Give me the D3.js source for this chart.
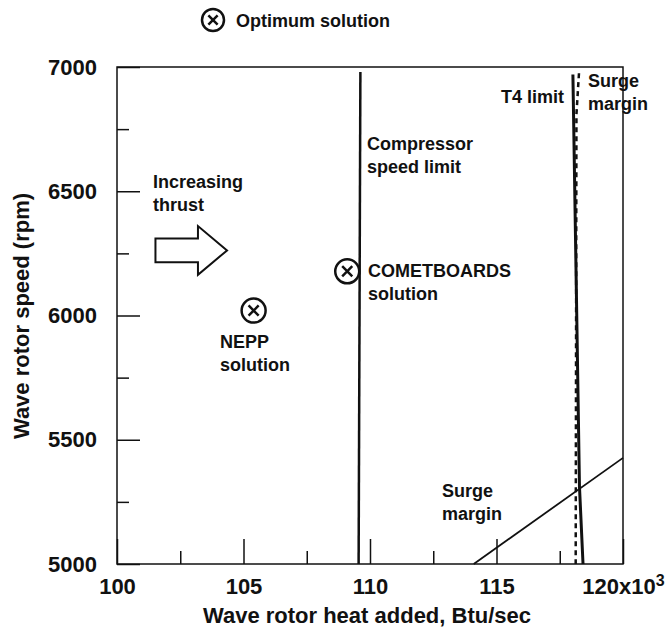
<!DOCTYPE html>
<html>
<head>
<meta charset="utf-8">
<script src="https://cdn.jsdelivr.net/npm/d3@7"></script>
<style>
body { margin: 0; background: #fff; }
text { font-family: "Liberation Sans", Arial, Helvetica, sans-serif; font-weight: bold; fill: #111; }
</style>
</head>
<body>
<script>
// axis ticks
var xMajor = [100, 105, 110, 115, 120];
var xMinor = [102.5, 107.5, 112.5, 117.5];
var yMajor = [5000, 5500, 6000, 6500, 7000];
var yMinor = [5250, 5750, 6250, 6750];

// constraint lines, [heat added (x10^3 Btu/sec), rotor speed (rpm)]
var compressorLimit = [[109.62, 6980], [109.55, 5000]];
var t4Limit = [[118.02, 6970], [118.28, 5310], [118.42, 5000]];
var surgeDashed = [[118.26, 6975], [118.16, 6810], [118.13, 5000]];
var surgeLine = [[114.1, 5000], [120, 5427]];

// optimum solutions
var optima = [
	{name: "NEPP", x: 105.4, y: 6020},
	{name: "COMETBOARDS", x: 109.1, y: 6178}
];

// "increasing thrust" arrow outline
var arrow = [[101.52, 6310], [103.2, 6310], [103.2, 6360], [104.35, 6262],
	[103.2, 6164], [103.2, 6214], [101.52, 6214]];

var notes = [
	{x: 101.42, y: 6513, lines: ["Increasing", "thrust"], anchor: "start"},
	{x: 104.07, y: 5869, lines: ["NEPP", "solution"], anchor: "start"},
	{x: 109.88, y: 6666, lines: ["Compressor", "speed limit"], anchor: "start"},
	{x: 109.92, y: 6155, lines: ["COMETBOARDS", "solution"], anchor: "start"},
	{x: 117.67, y: 6855, lines: ["T4 limit"], anchor: "end"},
	{x: 118.62, y: 6920, lines: ["Surge", "margin"], anchor: "start"},
	{x: 112.85, y: 5270, lines: ["Surge", "margin"], anchor: "start"}
];

var margin = {left: 117, top: 67};
var width = 506, height = 497;

var svg = d3.select("body").append("svg")
	.attr("width", 672).attr("height", 634);

var x = d3.scaleLinear().domain([100, 120]).range([0, width]);
var y = d3.scaleLinear().domain([5000, 7000]).range([height, 0]);

var g = svg.append("g")
	.attr("transform", "translate(" + margin.left + "," + margin.top + ")");

// minor ticks
g.append("g").attr("transform", "translate(0," + height + ")")
	.call(d3.axisBottom(x).tickValues(xMinor).tickSize(-13).tickSizeOuter(0).tickFormat(""));
g.append("g")
	.call(d3.axisLeft(y).tickValues(yMinor).tickSize(-12).tickSizeOuter(0).tickFormat(""));

// major ticks + labels
var xAxis = g.append("g").attr("class", "x axis").attr("transform", "translate(0," + height + ")")
	.call(d3.axisBottom(x).tickValues(xMajor).tickSize(-25).tickSizeOuter(0).tickPadding(14).tickFormat(d3.format("d")));
var yAxis = g.append("g").attr("class", "y axis")
	.call(d3.axisLeft(y).tickValues(yMajor).tickSize(-23).tickSizeOuter(0).tickPadding(20).tickFormat(d3.format("d")));

g.selectAll(".tick line").attr("stroke", "#111").attr("stroke-width", 1.5);
g.selectAll(".domain").remove();
g.selectAll(".tick text").attr("font-size", 22).attr("fill", "#111")
	.style("font-family", "'Liberation Sans', Arial, sans-serif").style("font-weight", "bold");

xAxis.selectAll(".tick text").filter(function(d) { return d === 120; })
	.text("120x10")
	.append("tspan").attr("dy", "-0.45em").attr("font-size", 16).text("3");

// frame
g.append("rect").attr("width", width).attr("height", height)
	.attr("fill", "none").attr("stroke", "#111").attr("stroke-width", 1.5);

var line = d3.line().x(function(d) { return x(d[0]); }).y(function(d) { return y(d[1]); });

g.append("path").datum(compressorLimit).attr("d", line)
	.attr("fill", "none").attr("stroke", "#111").attr("stroke-width", 2.5);
g.append("path").datum(t4Limit).attr("d", line)
	.attr("fill", "none").attr("stroke", "#111").attr("stroke-width", 3);
g.append("path").datum(surgeDashed).attr("d", line)
	.attr("fill", "none").attr("stroke", "#111").attr("stroke-width", 2.5)
	.attr("stroke-dasharray", "5,4");
g.append("path").datum(surgeLine).attr("d", line)
	.attr("fill", "none").attr("stroke", "#111").attr("stroke-width", 1.8);

// arrow
g.append("path").datum(arrow).attr("d", function(d) { return line(d) + "Z"; })
	.attr("fill", "#fff").attr("stroke", "#111").attr("stroke-width", 2);

function otimes(sel, r) {
	sel.append("circle").attr("r", r).attr("fill", "#fff")
		.attr("stroke", "#111").attr("stroke-width", 2.5);
	var k = r * 0.42;
	sel.append("path").attr("d", "M" + (-k) + "," + (-k) + "L" + k + "," + k + "M" + k + "," + (-k) + "L" + (-k) + "," + k)
		.attr("stroke", "#111").attr("stroke-width", 2.5);
}

g.selectAll(".opt").data(optima).enter().append("g")
	.attr("class", "opt")
	.attr("transform", function(d) { return "translate(" + x(d.x) + "," + y(d.y) + ")"; })
	.each(function() { otimes(d3.select(this), 12); });

// annotations
var note = g.selectAll(".note").data(notes).enter().append("text")
	.attr("class", "note")
	.attr("font-size", 18)
	.attr("text-anchor", function(d) { return d.anchor; })
	.attr("x", function(d) { return x(d.x); })
	.attr("y", function(d) { return y(d.y); });
note.selectAll("tspan").data(function(d) { return d.lines.map(function(l) { return {t: l, x: x(d.x)}; }); })
	.enter().append("tspan")
	.attr("x", function(d) { return d.x; })
	.attr("dy", function(d, i) { return i === 0 ? 0 : 23; })
	.text(function(d) { return d.t; });

// legend
var legend = svg.append("g").attr("transform", "translate(213,20)");
otimes(legend, 11);
legend.append("text").attr("x", 23).attr("y", 7).attr("font-size", 18).text("Optimum solution");

// axis titles
svg.append("text")
	.attr("x", margin.left + width / 2 - 3).attr("y", 623)
	.attr("font-size", 22).style("text-anchor", "middle")
	.text("Wave rotor heat added, Btu/sec");

svg.append("text")
	.attr("transform", "rotate(-90)")
	.attr("x", -316).attr("y", 29)
	.attr("font-size", 22).style("text-anchor", "middle")
	.text("Wave rotor speed (rpm)");
</script>
</body>
</html>
